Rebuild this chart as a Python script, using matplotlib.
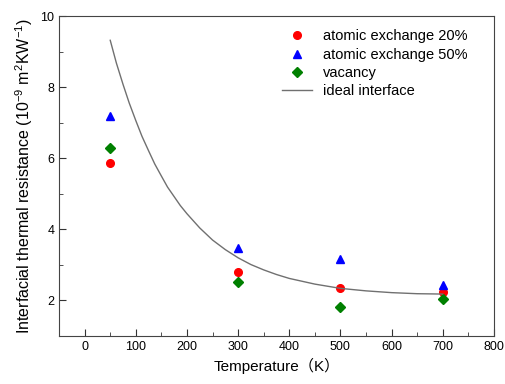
import matplotlib.pyplot as plt
from matplotlib.ticker import MultipleLocator

plt.rcParams['font.family'] = ['Liberation Sans', 'Noto Sans CJK JP', 'DejaVu Sans']
plt.rcParams['mathtext.fontset'] = 'custom'
plt.rcParams['mathtext.rm'] = 'Liberation Sans'
plt.rcParams['mathtext.it'] = 'Liberation Sans'

# data
temps = [50, 300, 500, 700]
exch20 = [5.87, 2.80, 2.34, 2.25]
exch50 = [7.19, 3.49, 3.18, 2.44]
vacancy = [6.28, 2.52, 1.83, 2.04]

ideal_t = [50, 62, 75, 87, 100, 112, 125, 137, 150, 162, 175, 187, 200, 225, 250, 275,
           300, 325, 350, 375, 400, 450, 500, 550, 600, 650, 700]
ideal_r = [9.32, 8.68, 8.08, 7.56, 7.06, 6.62, 6.21, 5.84, 5.50, 5.19, 4.92, 4.67, 4.44,
           4.04, 3.70, 3.43, 3.20, 3.01, 2.86, 2.73, 2.62, 2.46, 2.34, 2.27, 2.22, 2.19, 2.18]

fig = plt.figure(figsize=(5.05, 3.84), dpi=100)
ax = fig.add_axes([0.117, 0.125, 0.861, 0.833])

ax.plot(temps, exch20, 'o', color='#ff0000', ms=5.5, label='atomic exchange 20%')
ax.plot(temps, exch50, '^', color='#0000ff', ms=6, label='atomic exchange 50%')
ax.plot(temps, vacancy, 'D', color='#008000', ms=4.8, label='vacancy')
ax.plot(ideal_t, ideal_r, '-', color='#707070', lw=1, label='ideal interface')

ax.set_xlim(-50, 800)
ax.set_ylim(1, 10)
ax.xaxis.set_major_locator(MultipleLocator(100))
ax.xaxis.set_minor_locator(MultipleLocator(50))
ax.yaxis.set_major_locator(MultipleLocator(2))
ax.yaxis.set_minor_locator(MultipleLocator(1))
ax.tick_params(which='both', direction='in', labelsize=9, color='#333333')
ax.tick_params(which='major', length=5)
ax.tick_params(which='minor', length=3)
for s in ax.spines.values():
    s.set_color('#444444')

ax.set_xlabel('Temperature（K）', fontsize=11)
ax.set_ylabel('Interfacial thermal resistance (10$^{-9}$ m$^2$KW$^{-1}$)', fontsize=11.5)

ax.legend(loc='upper right', frameon=False, fontsize=10.5, handlelength=2.0,
          labelspacing=0.3, bbox_to_anchor=(0.97, 1.0))

plt.savefig('out.png', dpi=100)
